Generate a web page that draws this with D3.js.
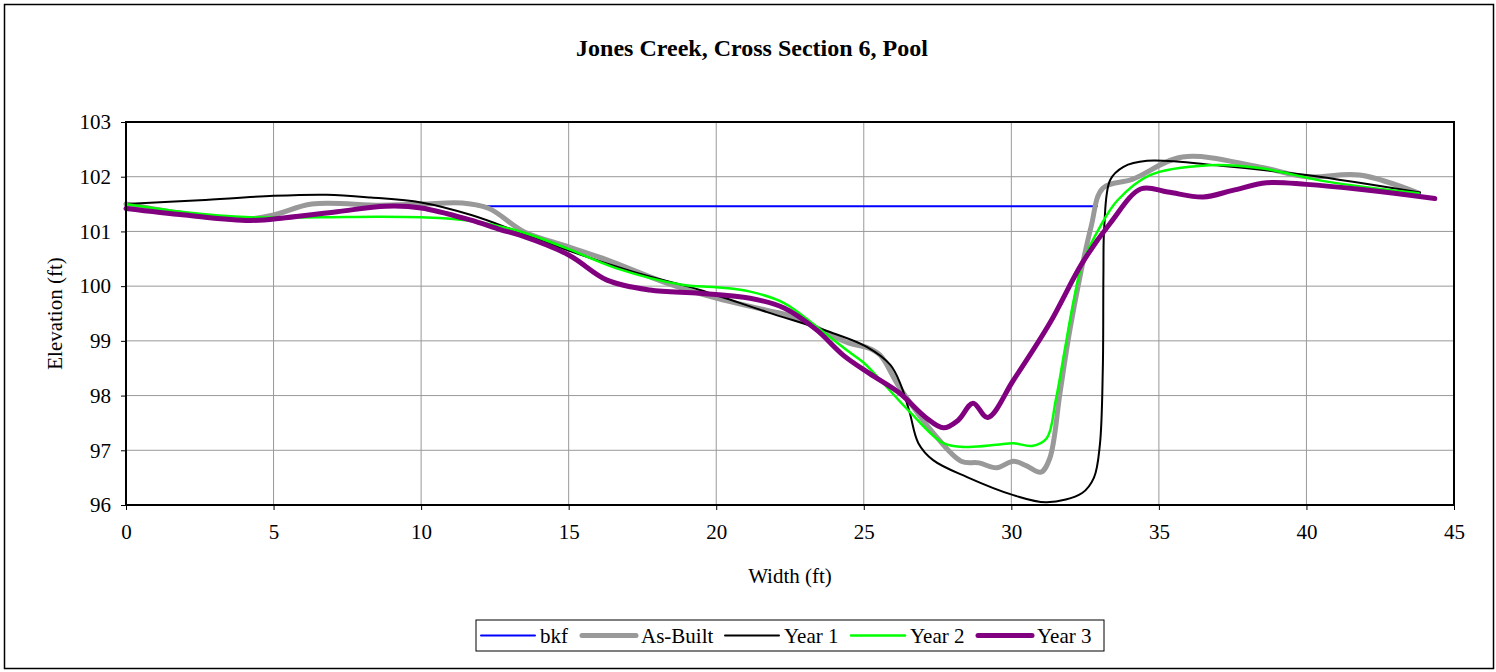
<!DOCTYPE html>
<html>
<head>
<meta charset="utf-8">
<script src="https://cdn.jsdelivr.net/npm/d3@7"></script>
<style>
  body { margin: 0; background: #fff; }
  text { font-family: "Liberation Serif", "Times New Roman", serif; fill: #000; }
</style>
</head>
<body>
<script>
// station (ft), elevation (ft)
const bkf = [[11.9, 101.46], [32.9, 101.46]];

const asBuilt = [[0, 101.5], [2, 101.32], [4, 101.22], [5, 101.3], [6.3, 101.5], [8.6, 101.48], [10, 101.5],
    [11.4, 101.52], [12.3, 101.42], [13.5, 100.99], [15, 100.72], [16.3, 100.48], [18.3, 100.06], [20, 99.78],
    [21.7, 99.56], [22.6, 99.44], [24.5, 98.96], [25.1, 98.88], [25.55, 98.74], [26.2, 98.16], [27.35, 97.32],
    [28.3, 96.8], [28.9, 96.77], [29.5, 96.68], [30.07, 96.8], [30.5, 96.72], [31.0, 96.6], [31.3, 96.85],
    [31.65, 98.05], [32.0, 99.25], [32.7, 101.08], [33.1, 101.79], [34.1, 101.95], [35.8, 102.36],
    [38.4, 102.18], [40, 102.0], [41.8, 102.03], [43.8, 101.7]];

const year1 = [[0, 101.5], [2.5, 101.57], [5, 101.65], [6.8, 101.67], [8.3, 101.62], [10, 101.53], [11.7, 101.3],
    [13.4, 100.97], [15, 100.65], [17.2, 100.26], [19.45, 99.93], [21.7, 99.53], [23.96, 99.14], [25.1, 98.89],
    [25.9, 98.56], [26.25, 98.2], [26.55, 97.7], [26.85, 97.13], [27.35, 96.82], [28.5, 96.51], [30.07, 96.18],
    [31.2, 96.05], [32.4, 96.22], [32.8, 96.5], [33.0, 97.1], [33.1, 98.5], [33.12, 100.2], [33.15, 101.1],
    [33.35, 101.94], [33.8, 102.18], [34.6, 102.29], [37.1, 102.2], [40, 102.03], [43.85, 101.71]];

const year2 = [[0, 101.5], [2, 101.35], [4.2, 101.26], [6.6, 101.26], [8.5, 101.27], [10, 101.26], [11.6, 101.2],
    [13.35, 101.0], [14.9, 100.7], [16.6, 100.33], [18.9, 100.02], [20, 99.98], [21.15, 99.9], [22.3, 99.69],
    [23.4, 99.26], [24.5, 98.8], [25.0, 98.6], [25.65, 98.23], [26.6, 97.68], [27.7, 97.13], [28.5, 97.06],
    [29.5, 97.1], [30.07, 97.13], [30.7, 97.08], [31.2, 97.22], [31.5, 97.9], [31.8, 98.8], [32.1, 99.7],
    [32.4, 100.4], [33.0, 101.08], [33.6, 101.57], [34.7, 102.03], [36.7, 102.21], [38.4, 102.16],
    [40.7, 101.91], [43.8, 101.7]];

const year3 = [[0, 101.42], [2, 101.3], [4.2, 101.2], [5.4, 101.25], [7.15, 101.36], [8.8, 101.46], [10, 101.43],
    [11.66, 101.21], [12.7, 101.03], [13.35, 100.93], [15, 100.57], [16.3, 100.11], [17.75, 99.93], [19.45, 99.87],
    [21.15, 99.78], [22.3, 99.6], [23.4, 99.2], [24.3, 98.74], [25.2, 98.4], [26.2, 98.05], [27.1, 97.6],
    [27.7, 97.41], [28.2, 97.55], [28.7, 97.86], [29.2, 97.6], [30.07, 98.28], [31.3, 99.32], [32.4, 100.42],
    [33.35, 101.15], [34.4, 101.78], [35.3, 101.72], [36.5, 101.63], [37.5, 101.75], [38.65, 101.89],
    [40, 101.86], [41.8, 101.77], [44.35, 101.6]];

const xTicks = [0, 5, 10, 15, 20, 25, 30, 35, 40, 45];
const yTicks = [96, 97, 98, 99, 100, 101, 102, 103];

const series = [
    { name: "bkf", data: bkf, color: "#0000ff", width: 2 },
    { name: "As-Built", data: asBuilt, color: "#999999", width: 5 },
    { name: "Year 1", data: year1, color: "#000000", width: 2 },
    { name: "Year 2", data: year2, color: "#00ff00", width: 2.5 },
    { name: "Year 3", data: year3, color: "#800080", width: 5 }
];

const margin = { top: 122, right: 42, bottom: 167, left: 126 };
const W = 1496, H = 672;
const w = W - margin.left - margin.right;
const h = H - margin.top - margin.bottom;

const svg = d3.select("body").append("svg")
    .attr("width", W)
    .attr("height", H);

// outer frame
svg.append("rect")
    .attr("x", 4.5).attr("y", 4.5)
    .attr("width", 1489).attr("height", 664)
    .attr("fill", "#fff")
    .attr("stroke", "#000")
    .attr("stroke-width", 1.5);

svg.append("text")
    .attr("x", 752)
    .attr("y", 56)
    .attr("text-anchor", "middle")
    .style("font-size", "24px")
    .style("font-weight", "bold")
    .text("Jones Creek, Cross Section 6, Pool");

const g = svg.append("g")
    .attr("transform", `translate(${margin.left},${margin.top})`);

const x = d3.scaleLinear().domain([0, 45]).range([0, w]);
const y = d3.scaleLinear().domain([96, 103]).range([h, 0]);

// grid
g.append("g")
    .selectAll("line")
    .data(yTicks)
    .enter().append("line")
    .attr("x1", 0).attr("x2", w)
    .attr("y1", d => y(d)).attr("y2", d => y(d))
    .attr("stroke", "#999")
    .attr("stroke-width", 1);

g.append("g")
    .selectAll("line")
    .data(xTicks)
    .enter().append("line")
    .attr("y1", 0).attr("y2", h)
    .attr("x1", d => x(d)).attr("x2", d => x(d))
    .attr("stroke", "#999")
    .attr("stroke-width", 1);

const xAxis = d3.axisBottom(x).tickValues(xTicks).tickFormat(d3.format("d"))
    .tickSize(5).tickSizeOuter(0).tickPadding(14);
const yAxis = d3.axisLeft(y).tickValues(yTicks).tickFormat(d3.format("d"))
    .tickSize(5).tickSizeOuter(0).tickPadding(10);

const gx = g.append("g")
    .attr("transform", `translate(0,${h})`)
    .call(xAxis);
const gy = g.append("g").call(yAxis);

[gx, gy].forEach(a => {
    a.select(".domain").remove();
    a.selectAll(".tick line").attr("stroke", "#000");
    a.selectAll(".tick text")
        .style("font-family", '"Liberation Serif", "Times New Roman", serif')
        .style("font-size", "21px");
});

const line = d3.line()
    .x(d => x(d[0]))
    .y(d => y(d[1]))
    .curve(d3.curveCatmullRom.alpha(0.5));

g.selectAll(".series")
    .data(series)
    .enter().append("path")
    .attr("class", "series")
    .attr("d", d => line(d.data))
    .attr("fill", "none")
    .attr("stroke", d => d.color)
    .attr("stroke-width", d => d.width)
    .attr("stroke-linejoin", "round")
    .attr("stroke-linecap", "round");

// plot border
g.append("rect")
    .attr("width", w).attr("height", h)
    .attr("fill", "none")
    .attr("stroke", "#000")
    .attr("stroke-width", 2);

g.append("text")
    .attr("transform", "rotate(-90)")
    .attr("x", -h / 2)
    .attr("y", -64)
    .attr("text-anchor", "middle")
    .style("font-size", "21px")
    .text("Elevation (ft)");

g.append("text")
    .attr("x", 664)
    .attr("y", h + 78)
    .attr("text-anchor", "middle")
    .style("font-size", "21px")
    .text("Width (ft)");

// legend
const legend = svg.append("g").attr("transform", "translate(476,620)");
legend.append("rect")
    .attr("width", 628).attr("height", 31)
    .attr("fill", "#fff")
    .attr("stroke", "#000")
    .attr("stroke-width", 1);

const legendX = [5, 106, 249, 375, 502];
const item = legend.selectAll(".legend")
    .data(series)
    .enter().append("g")
    .attr("class", "legend")
    .attr("transform", (d, i) => `translate(${legendX[i]},15.5)`);
item.append("line")
    .attr("x1", 0).attr("x2", 54)
    .attr("stroke", d => d.color)
    .attr("stroke-width", d => d.width)
    .attr("stroke-linecap", "round");
item.append("text")
    .attr("x", 59)
    .attr("dy", "0.35em")
    .style("font-size", "21px")
    .text(d => d.name);
</script>
</body>
</html>
